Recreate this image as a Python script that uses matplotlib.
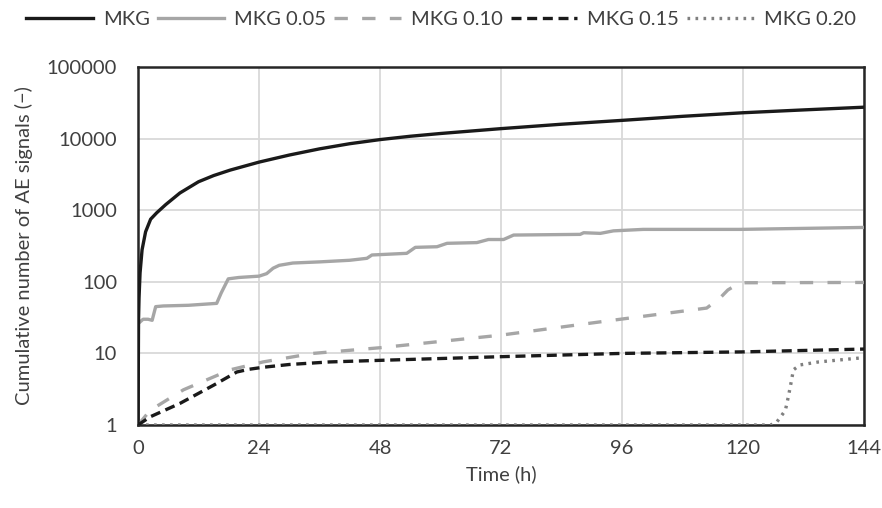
import matplotlib
matplotlib.use("Agg")
import matplotlib.pyplot as plt
from matplotlib.ticker import FixedLocator, FixedFormatter, NullLocator

plt.rcParams["font.family"] = ["Lato", "DejaVu Sans"]

# series (time in h, cumulative AE count)
t_mkg = [0, 0.1, 0.2, 0.4, 0.8, 1.5, 2.5, 3.7, 5.5, 8.3, 12, 15, 18.3, 24, 30,
         36, 42, 48, 54, 60, 72, 84, 96, 108, 120, 132, 144]
n_mkg = [1, 30, 60, 133, 280, 500, 750, 920, 1200, 1740, 2500, 3050, 3640,
         4700, 5900, 7200, 8500, 9700, 10800, 11800, 13800, 15900, 18000,
         20500, 23000, 25200, 27500]

t_005 = [0.4, 1, 2, 2.8, 3.5, 5, 10, 15.6, 16.5, 17.9, 20, 24, 25.5, 26.8, 28,
         30.7, 36.1, 42, 45.4, 46.4, 53.3, 55, 59.3, 61.3, 67.2, 69.5, 72.5,
         74.5, 87.7, 88.4, 91.7, 94.3, 100.2, 119.4, 144]
n_005 = [27.5, 30, 30, 29, 45, 46, 47, 50, 70, 110, 115, 120, 130, 155, 170,
         183, 190, 200, 213, 237, 250, 303, 309, 345, 353, 390, 390,
         450, 460, 485, 475, 515, 540, 540, 575]

t_010 = [0, 2.4, 9, 15, 18.3, 24.8, 34.7, 48, 72, 91.7, 112.8, 115.5, 117,
         119.4, 144]
n_010 = [1, 1.6, 3.1, 4.7, 5.9, 7.6, 10, 12, 18, 27.6, 43, 60, 77, 97, 98]

t_015 = [0, 2.4, 8.3, 15, 19.6, 22, 24.8, 30, 38, 48, 72, 96, 120, 144]
n_015 = [1, 1.3, 2.0, 3.6, 5.5, 6.0, 6.4, 7.0, 7.6, 8.0, 9.0, 10.0, 10.5, 11.5]

t_020 = [0, 125.5, 126.7, 128.4, 129, 129.5, 130, 131.3, 135, 143, 144]
n_020 = [1, 1, 1.1, 1.6, 2.5, 3.8, 5.9, 6.9, 7.6, 8.6, 8.7]

x_ticks = [0, 24, 48, 72, 96, 120, 144]
y_ticks = [1, 10, 100, 1000, 10000, 100000]
y_labels = ["1", "10", "100", "1000", "10000", "100000"]

fs = 14.5
txt = "#404040"

fig = plt.figure(figsize=(8.82, 5.08), dpi=100)
ax = fig.add_axes([0.1565, 0.1634, 0.8231, 0.7046])

lw = 2.4
ax.plot(t_mkg, n_mkg, color="#1a1a1a", lw=lw, label="MKG", zorder=5)
ax.plot(t_005, n_005, color="#a6a6a6", lw=lw, label="MKG 0.05", zorder=4)
ax.plot(t_010, n_010, color="#a6a6a6", lw=lw, dashes=(4, 4.3), label="MKG 0.10", zorder=3)
ax.plot(t_015, n_015, color="#1a1a1a", lw=lw, dashes=(3, 1.7), label="MKG 0.15", zorder=4)
ax.plot(t_020, n_020, color="#7f7f7f", lw=lw, dashes=(0.8, 1.6), label="MKG 0.20", zorder=3)

ax.set_yscale("log")
ax.set_xlim(0, 144)
ax.set_ylim(1, 100000)
ax.xaxis.set_major_locator(FixedLocator(x_ticks))
ax.yaxis.set_major_locator(FixedLocator(y_ticks))
ax.yaxis.set_major_formatter(FixedFormatter(y_labels))
ax.yaxis.set_minor_locator(NullLocator())
ax.tick_params(length=0, labelsize=fs, colors=txt)
ax.tick_params(axis="y", pad=15)
ax.tick_params(axis="x", pad=11)
ax.grid(True, color="#d9d9d9", lw=1.3)
ax.set_axisbelow(True)
for s in ax.spines.values():
    s.set_color("#262626")
    s.set_linewidth(1.8)

ax.set_xlabel("Time (h)", fontsize=fs, color=txt, labelpad=6)
ax.set_ylabel("Cumulative number of AE signals (\u2212)", fontsize=fs,
              color=txt, labelpad=10)

fig.legend(loc="upper center", bbox_to_anchor=(0.5, 1.015), ncol=5, frameon=False,
           fontsize=fs, handlelength=3.3, handletextpad=0.5, columnspacing=0.4,
           labelcolor=txt)

fig.savefig("out.png", dpi=100)
